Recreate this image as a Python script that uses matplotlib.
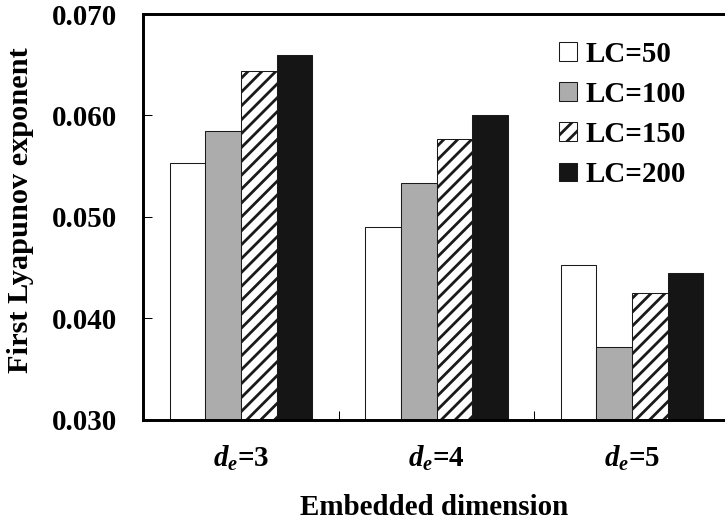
import matplotlib
matplotlib.use("Agg")
import matplotlib.pyplot as plt
import numpy as np
from matplotlib.ticker import FixedLocator, FormatStrFormatter

plt.rcParams['font.family'] = ['Liberation Serif', 'DejaVu Serif']
plt.rcParams['font.weight'] = 'bold'
plt.rcParams['mathtext.fontset'] = 'custom'
plt.rcParams['mathtext.it'] = 'Liberation Serif:italic:bold'
plt.rcParams['mathtext.rm'] = 'Liberation Serif:bold'
plt.rcParams['mathtext.bf'] = 'Liberation Serif:bold'
plt.rcParams['hatch.linewidth'] = 1.6

# data
categories = [r'$d_e$=3', r'$d_e$=4', r'$d_e$=5']
series_names = ['LC=50', 'LC=100', 'LC=150', 'LC=200']
lc50 = [0.0553, 0.0490, 0.0452]
lc100 = [0.0585, 0.0533, 0.0372]
lc150 = [0.0644, 0.0577, 0.0425]
lc200 = [0.0660, 0.0600, 0.0445]
yticks = [0.030, 0.040, 0.050, 0.060, 0.070]

dpi = 125
fig = plt.figure(figsize=(725 / dpi, 523 / dpi), dpi=dpi)
ax = fig.add_axes([143.3 / 725, (523 - 419.5) / 523, 586.5 / 725, 405.5 / 523])

x = np.arange(len(categories))
bar_w = 0.182
styles = [
    dict(color='white', hatch=None),
    dict(color='#acacac', hatch=None),
    dict(color='white', hatch='///'),
    dict(color='#151515', hatch=None),
]
for i, (vals, name, st) in enumerate(zip([lc50, lc100, lc150, lc200], series_names, styles)):
    ax.bar(x + (i - 1.5) * bar_w, vals, bar_w, color=st['color'],
           hatch=st['hatch'], edgecolor='#1a1a1a', linewidth=0.6, label=name)

ax.set_xlim(-0.5, 2.5)
ax.set_ylim(0.030, 0.070)
ax.set_yticks(yticks)
ax.yaxis.set_major_formatter(FormatStrFormatter('%.3f'))
ax.set_xticks(x)
ax.set_xticklabels(categories)
ax.xaxis.set_minor_locator(FixedLocator([0.5, 1.5]))

ax.tick_params(axis='y', direction='in', length=5.2, width=0.6, pad=15, labelsize=16.7)
ax.tick_params(axis='x', which='major', length=0, pad=14, labelsize=16.7)
ax.tick_params(axis='x', which='minor', direction='in', length=5, width=0.6)
for sp in ax.spines.values():
    sp.set_linewidth(1.7)

ax.set_ylabel('First Lyapunov exponent', fontsize=17.5, fontweight='bold')
ax.yaxis.set_label_coords((34 - 143.3) / 586.5, (419.5 - 210) / 405.5)
ax.set_xlabel('Embedded dimension', fontsize=16.7, fontweight='bold')
ax.xaxis.set_label_coords(0.496, (419.5 - 494) / 405.5)

ax.legend(loc='upper left', bbox_to_anchor=(559 / 725, 1 - 41 / 523),
          bbox_transform=fig.transFigure, frameon=False, borderpad=0,
          borderaxespad=0, handlelength=0.62, handleheight=0.62,
          handletextpad=0.3, labelspacing=0.45, fontsize=16.7)

fig.savefig('out.png', dpi=dpi)
